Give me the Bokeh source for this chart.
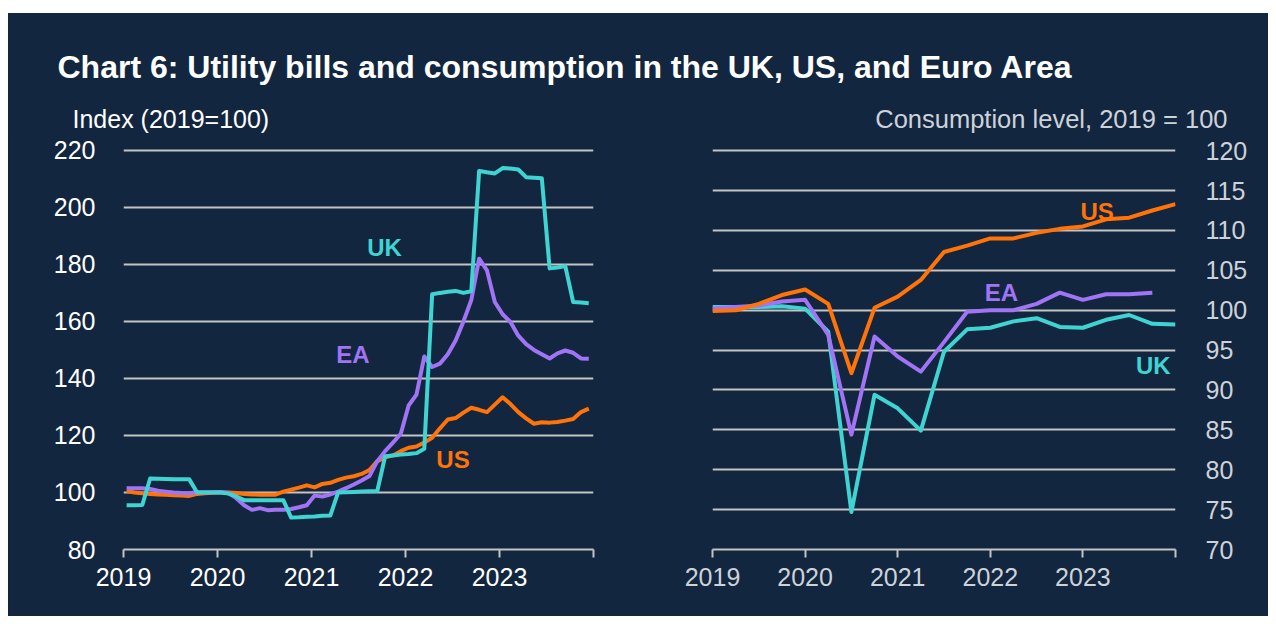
from bokeh.plotting import figure
from bokeh.models import Range1d, FixedTicker, Label, Spacer
from bokeh.layouts import column, row
from bokeh.embed import file_html
from bokeh.resources import INLINE
from bokeh.core.properties import value

# ---------------- data ----------------
# Left panel: utility bills index, monthly Jan 2019 - Dec 2023 (2019=100)
months = list(range(60))
bills_uk = [95.5, 95.5, 95.6, 104.9, 104.8, 104.7, 104.6, 104.6, 104.6, 100.0,
            100.0, 100.0, 100.0, 99.6, 98.6, 97.3, 97.3, 97.3, 97.3, 97.3,
            97.3, 91.2, 91.3, 91.5, 91.6, 91.8, 91.9, 100.0, 100.1, 100.2,
            100.3, 100.4, 100.5, 112.7, 113.0, 113.3, 113.5, 113.8, 115.3, 169.5,
            170.0, 170.4, 170.7, 170.0, 170.6, 212.8, 212.3, 211.9, 213.8, 213.6,
            213.3, 210.6, 210.4, 210.2, 178.6, 178.9, 179.4, 166.8, 166.6, 166.4]
bills_ea = [101.5, 101.5, 101.5, 101.2, 100.6, 100.3, 100.0, 99.8, 99.7, 100.1,
            100.1, 100.1, 100.2, 99.8, 98.0, 95.5, 93.9, 94.5, 93.8, 93.9,
            93.9, 94.2, 94.8, 95.5, 98.9, 98.6, 99.3, 100.3, 101.5, 102.8,
            104.2, 105.8, 111.0, 114.5, 117.5, 120.6, 130.5, 134.3, 147.7, 144.0,
            145.2, 148.5, 153.3, 160.0, 167.5, 182.0, 177.9, 166.8, 162.5, 159.8,
            155.0, 152.0, 150.0, 148.5, 147.0, 148.8, 149.8, 149.0, 147.0, 146.9]
bills_us = [100.5, 100.0, 99.7, 99.5, 99.3, 99.2, 99.0, 98.9, 98.8, 99.5,
            99.7, 99.9, 100.0, 100.0, 99.8, 99.5, 99.3, 99.2, 99.2, 99.2,
            100.3, 101.0, 101.7, 102.5, 101.8, 103.0, 103.4, 104.4, 105.2, 105.7,
            106.5, 107.9, 111.0, 112.3, 113.0, 114.5, 115.7, 116.1, 117.5, 119.2,
            122.5, 125.6, 126.1, 128.0, 129.7, 129.0, 128.2, 130.8, 133.4, 131.0,
            128.2, 126.0, 124.1, 124.6, 124.5, 124.7, 125.2, 125.8, 128.2, 129.4]

# Right panel: consumption level, quarterly (2019 = 100)
quarters = list(range(21))
cons_us = [99.9, 100.0, 100.8, 101.9, 102.6, 100.8, 92.1, 100.3, 101.7, 103.8,
           107.3, 108.1, 109.0, 109.0, 109.7, 110.2, 110.5, 111.4, 111.6, 112.5, 113.3]
cons_ea = [100.2, 100.4, 100.6, 101.1, 101.3, 96.9, 84.4, 96.7, 94.2, 92.3,
           96.0, 99.8, 100.0, 100.0, 100.8, 102.2, 101.3, 102.0, 102.0, 102.2]
cons_uk = [100.4, 100.4, 100.4, 100.5, 100.2, 97.3, 74.7, 89.4, 87.7, 84.9,
           94.8, 97.6, 97.8, 98.6, 99.0, 97.9, 97.8, 98.8, 99.4, 98.3, 98.2]

year_ticks = [2019, 2020, 2021, 2022, 2023, 2024]
year_labels = ["2019", "2020", "2021", "2022", "2023", ""]
left_yticks = [80, 100, 120, 140, 160, 180, 200, 220]
right_yticks = [70, 75, 80, 85, 90, 95, 100, 105, 110, 115, 120]

title_text = "Chart 6: Utility bills and consumption in the UK, US, and Euro Area"
left_axis_title = "Index (2019=100)"
right_axis_title = "Consumption level, 2019 = 100"

# ---------------- style ----------------
NAVY = "#13263f"
C_UK = "#3fd4d2"
C_EA = "#a173f5"
C_US = "#ff7308"
GRID = "#c4c4c4"
LIGHT = "#cdd2d9"
FONT = "Liberation Sans"

month_x = [2019 + (m + 0.4) / 12 for m in months]
quarter_x = [2019 + q / 4 for q in quarters]

# ---------------- header ----------------
header = figure(width=1260, height=120, x_range=Range1d(0, 1260), y_range=Range1d(0, 120),
                min_border=0, toolbar_location=None, x_axis_location=None, y_axis_location=None,
                output_backend="svg", background_fill_color=NAVY, border_fill_color=NAVY,
                outline_line_color=None)
header.xgrid.visible = False
header.ygrid.visible = False
header.add_layout(Label(x=49, y=67, text=title_text, text_font=FONT, text_font_style="bold",
                        text_font_size="32px", text_color="white", text_baseline="middle",
                        text_align="left"))
header.add_layout(Label(x=64, y=15, text=left_axis_title, text_font=FONT,
                        text_font_size="25px", text_color="white", text_baseline="middle",
                        text_align="left"))
header.add_layout(Label(x=1219, y=15, text=right_axis_title, text_font=FONT,
                        text_font_size="25.5px", text_color=LIGHT, text_baseline="middle",
                        text_align="right"))


def style(p, label_color, ysoff):
    p.background_fill_color = NAVY
    p.border_fill_color = NAVY
    p.outline_line_color = None
    p.xgrid.visible = False
    p.ygrid.grid_line_color = GRID
    p.ygrid.grid_line_width = 2
    xa = p.xaxis[0]
    xa.ticker = FixedTicker(ticks=year_ticks)
    xa.major_label_overrides = {t: l for t, l in zip(year_ticks, year_labels)}
    xa.axis_line_color = GRID
    xa.axis_line_width = 2
    xa.major_tick_line_color = GRID
    xa.major_tick_line_width = 2
    xa.major_tick_out = 8
    xa.major_tick_in = 0
    xa.minor_tick_line_color = None
    xa.major_label_text_font = FONT
    xa.major_label_text_font_size = "25px"
    xa.major_label_text_color = label_color
    xa.major_label_standoff = 10
    ya = p.yaxis[0]
    ya.axis_line_color = None
    ya.major_tick_line_color = None
    ya.minor_tick_line_color = None
    ya.major_label_text_font = FONT
    ya.major_label_text_font_size = "25px"
    ya.major_label_text_color = label_color
    ya.major_label_standoff = ysoff


# ---------------- left panel ----------------
p1 = figure(width=642, height=483, x_range=Range1d(2019, 2024), y_range=Range1d(80, 221),
            min_border_left=115, min_border_right=57, min_border_top=14, min_border_bottom=67,
            toolbar_location=None, output_backend="svg")
style(p1, "white", 22)
p1.yaxis[0].ticker = FixedTicker(ticks=left_yticks)
p1.ygrid.ticker = FixedTicker(ticks=left_yticks[1:])

p1.line(month_x, bills_us, line_color=C_US, line_width=4, line_join="round")
p1.line(month_x, bills_ea, line_color=C_EA, line_width=4, line_join="round")
p1.line(month_x, bills_uk, line_color=C_UK, line_width=4, line_join="round")

lbl_font = value(FONT)
p1.text(x=[2021.777], y=[186.0], text=["UK"], text_color=C_UK, text_font=lbl_font,
        text_font_style="bold", text_font_size="24px", text_align="center", text_baseline="middle")
p1.text(x=[2021.44], y=[148.4], text=["EA"], text_color=C_EA, text_font=lbl_font,
        text_font_style="bold", text_font_size="24px", text_align="center", text_baseline="middle")
p1.text(x=[2022.505], y=[111.6], text=["US"], text_color=C_US, text_font=lbl_font,
        text_font_style="bold", text_font_size="24px", text_align="center", text_baseline="middle")

# ---------------- right panel ----------------
p2 = figure(width=618, height=483, x_range=Range1d(2019, 2024), y_range=Range1d(70, 120.4),
            min_border_left=62, min_border_right=93, min_border_top=11, min_border_bottom=67,
            toolbar_location=None, output_backend="svg", y_axis_location="right")
style(p2, LIGHT, 24)
p2.yaxis[0].ticker = FixedTicker(ticks=right_yticks)
p2.ygrid.ticker = FixedTicker(ticks=right_yticks[1:])

p2.line(quarter_x, cons_uk, line_color=C_UK, line_width=4, line_join="round")
p2.line(quarter_x[:len(cons_ea)], cons_ea, line_color=C_EA, line_width=4, line_join="round")
p2.line(quarter_x, cons_us, line_color=C_US, line_width=4, line_join="round")

p2.text(x=[2023.154], y=[112.4], text=["US"], text_color=C_US, text_font=lbl_font,
        text_font_style="bold", text_font_size="24px", text_align="center", text_baseline="middle")
p2.text(x=[2022.12], y=[102.2], text=["EA"], text_color=C_EA, text_font=lbl_font,
        text_font_style="bold", text_font_size="24px", text_align="center", text_baseline="middle")
p2.text(x=[2023.76], y=[93.1], text=["UK"], text_color=C_UK, text_font=lbl_font,
        text_font_style="bold", text_font_size="24px", text_align="center", text_baseline="middle")

panels = row(p1, p2, styles={"background-color": NAVY})
inner = column(header, panels, styles={"background-color": NAVY})
layout = column(Spacer(width=1268, height=13), row(Spacer(width=8, height=603), inner))
open("out.html", "w").write(file_html(layout, INLINE))
